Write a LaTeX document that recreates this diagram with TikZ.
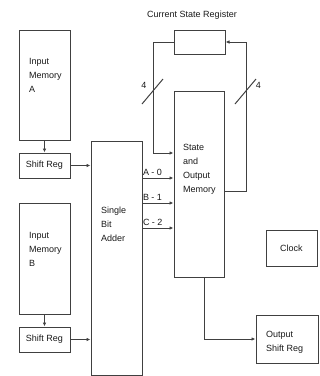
\documentclass[tikz,border=0pt]{standalone}
\usepackage{fontspec}
\setmainfont{Liberation Sans}
\usetikzlibrary{positioning,arrows.meta,calc}
\definecolor{ln}{gray}{0.25}
\tikzset{
  blk/.style ={draw=ln, line width=1pt, rectangle, inner sep=0pt, minimum width=51pt, text=black!90},
  txt/.style ={align=left, inner sep=0pt, anchor=north west, text=black!90},
  lbl/.style ={inner sep=0pt, anchor=south west, yshift=2pt, text=black!90},
  wire/.style={draw=ln, line width=1pt},
  arr/.style ={-{Latex[length=4pt,width=3.5pt]}, draw=ln, line width=1pt},
}
\begin{document}
\begin{tikzpicture}[x=1pt, y=-1pt, font=\fontsize{9}{14}\selectfont]
  \useasboundingbox (0,0) rectangle (320,376);
  % left column
  \node[blk, minimum height=110pt] (ima) at (44.5,85) {};
  \node[blk, minimum height=25pt] (sra) at (44.5,165.5) {Shift Reg};
  \node[blk, minimum height=111pt] (imb) at (44.5,258.5) {};
  \node[blk, minimum height=25pt] (srb) at (44.5,339.5) {Shift Reg};
  \node[blk, minimum height=234pt] (add) at (116.5,258) {};
  % right side
  \node[blk, minimum width=50pt, minimum height=186pt] (som) at (199,184) {};
  \node[blk, minimum height=24pt] (csr) at (199.5,42) {};
  \node[blk, minimum height=36pt] (clk) at (291.5,248) {Clock};
  \node[blk, minimum width=62pt, minimum height=48pt] (osr) at (287,339) {};

  \node[text=black!90] (csrlbl) at (192,15) {Current State Register};
  \node[txt] (imatxt) at (29,58) {Input\\Memory\\A};
  \node[txt] (imbtxt) at (29,232) {Input\\Memory\\B};
  \node[txt] (addtxt) at (101,207) {Single\\Bit\\Adder};
  \node[txt] (somtxt) at (183,144) {State\\and\\Output\\Memory};
  \node[txt] (osrtxt) at (266,331) {Output\\Shift Reg};

  \draw[arr] (ima) -- (sra);
  \draw[arr] (imb) -- (srb);
  \draw[arr] (sra.east) -- (sra.east -| add.west);
  \draw[arr] (srb.east) -- (srb.east -| add.west);

  % adder outputs
  \foreach \y/\l in {178/A - 0, 203/B - 1, 228/C - 2} {
    \coordinate (o) at (0,\y);
    \draw[arr] (o -| add.east) -- (o -| som.west) node[lbl, pos=0] {\l};
  }

  % state feedback loop
  \coordinate (lft) at (153,153);
  \coordinate (rgt) at (246,191);
  \draw[arr] (csr.west) -| (lft) -- (lft -| som.west);
  \draw[arr] (rgt -| som.east) -- (rgt) |- (csr.east);
  \draw[wire] (142,104) -- (163,79);
  \draw[wire] (235,104) -- (256,79);
  \node[text=black!90] (nl) at (144,85.5) {4};
  \node[text=black!90] (nr) at (258.5,85.5) {4};

  % output
  \coordinate (dn) at (204,339);
  \draw[arr] (dn |- som.south) -- (dn) -- (osr.west);
\end{tikzpicture}
\end{document}
